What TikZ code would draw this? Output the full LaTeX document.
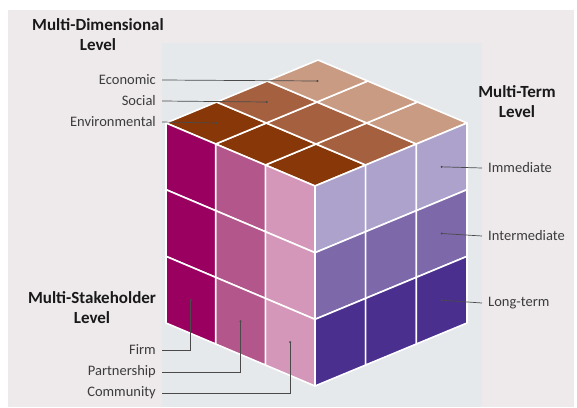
\documentclass[tikz,border=0pt]{standalone}
\usepackage{fontspec}
\setmainfont{Carlito}
\usepackage{tikz}
\usetikzlibrary{positioning}
\usepackage{xcolor}

\definecolor{panel}{HTML}{EEEAEC}
\definecolor{backdrop}{HTML}{E6E9EC}
\definecolor{envbrown}{HTML}{873708}
\definecolor{socbrown}{HTML}{A5613F}
\definecolor{ecobrown}{HTML}{C99B83}
\definecolor{firmpink}{HTML}{9A0060}
\definecolor{partpink}{HTML}{B3568B}
\definecolor{commpink}{HTML}{D497B9}
\definecolor{immpurple}{HTML}{ACA2CC}
\definecolor{intpurple}{HTML}{7D68A9}
\definecolor{longpurple}{HTML}{4A2F8F}
\definecolor{leadgray}{HTML}{4A4A4A}
\definecolor{labelgray}{HTML}{3C3C3C}

\begin{document}
\begin{tikzpicture}[x=1pt,y=-1pt,
    cell/.style={draw=white,line width=1.6pt,line join=round},
    leader/.style={draw=leadgray,line width=0.7pt},
    tag/.style={font=\fontsize{14.5}{16}\selectfont,text=labelgray,inner xsep=6pt,inner ysep=3pt},
    title/.style={font=\bfseries\fontsize{17}{20}\selectfont,text=black!90,align=center}]
    \useasboundingbox (0,0) rectangle (577,407);
    \fill[panel] (8,10) rectangle (574,407);
    \fill[backdrop] (162,43) rectangle (482,407);

    % front top corner of the cube
    \coordinate (F) at (315,186);

    % top face: dimensions
    \begin{scope}[shift={(F)},x={(-49.667pt,21pt)},y={(50.667pt,21pt)}]
        \foreach \j/\col in {0/envbrown,1/socbrown,2/ecobrown}
            \foreach \i in {0,1,2}
                \filldraw[cell,fill=\col] (\i,\j) -- (\i+1,\j) -- (\i+1,\j+1) -- (\i,\j+1) -- cycle;
        \coordinate (env-pt) at (2.5,0.5);
        \coordinate (soc-pt) at (2.5,1.5);
        \coordinate (eco-pt) at (2.5,2.5);
    \end{scope}

    % left face: stakeholders
    \begin{scope}[shift={(F)},x={(-49.667pt,21pt)},y={(0pt,-66.667pt)}]
        \foreach \i/\col in {0/commpink,1/partpink,2/firmpink}
            \foreach \j in {0,1,2}
                \filldraw[cell,fill=\col] (\i,\j) -- (\i+1,\j) -- (\i+1,\j+1) -- (\i,\j+1) -- cycle;
        \coordinate (comm-pt) at (0.5,2.5);
        \coordinate (part-pt) at (1.5,2.5);
        \coordinate (firm-pt) at (2.5,2.5);
    \end{scope}

    % right face: terms
    \begin{scope}[shift={(F)},x={(50.667pt,21pt)},y={(0pt,-66.667pt)}]
        \foreach \j/\col in {0/immpurple,1/intpurple,2/longpurple}
            \foreach \i in {0,1,2}
                \filldraw[cell,fill=\col] (\i,\j) -- (\i+1,\j) -- (\i+1,\j+1) -- (\i,\j+1) -- cycle;
        \coordinate (imm-pt) at (2.5,0.5);
        \coordinate (int-pt) at (2.5,1.5);
        \coordinate (long-pt) at (2.5,2.5);
    \end{scope}

    % headings
    \node[title] (dim-title) at (98,35) {Multi-Dimensional\\Level};
    \node[title] (term-title) at (517,102) {Multi-Term\\Level};
    \node[title] (stake-title) at (92,308) {Multi-Stakeholder\\Level};

    % labels and leaders
    \node[tag,anchor=east] (eco) at (162,80) {Economic};
    \node[tag,anchor=east] (soc) at (162,101) {Social};
    \node[tag,anchor=east] (env) at (162,122) {Environmental};
    \node[tag,anchor=west] (imm) at (482,168) {Immediate};
    \node[tag,anchor=west] (int) at (482,236) {Intermediate};
    \node[tag,anchor=west] (long) at (482,303) {Long-term};
    \node[tag,anchor=east] (firm) at (162,350) {Firm};
    \node[tag,anchor=east] (part) at (162,372) {Partnership};
    \node[tag,anchor=east] (comm) at (162,393) {Community};

    \draw[leader] (eco.east) -- (eco-pt);
    \draw[leader] (soc.east) -- (soc-pt);
    \draw[leader] (env.east) -- (env-pt);
    \draw[leader] (imm.west) -- (imm-pt);
    \draw[leader] (int.west) -- (int-pt);
    \draw[leader] (long.west) -- (long-pt);
    \draw[leader] (firm.east) -| (firm-pt);
    \draw[leader] (part.east) -| (part-pt);
    \draw[leader] (comm.east) -| (comm-pt);
    \foreach \p in {eco-pt,soc-pt,env-pt,imm-pt,int-pt,long-pt,firm-pt,part-pt,comm-pt}
        \fill[leadgray] (\p) circle (1.1pt);
\end{tikzpicture}
\end{document}
